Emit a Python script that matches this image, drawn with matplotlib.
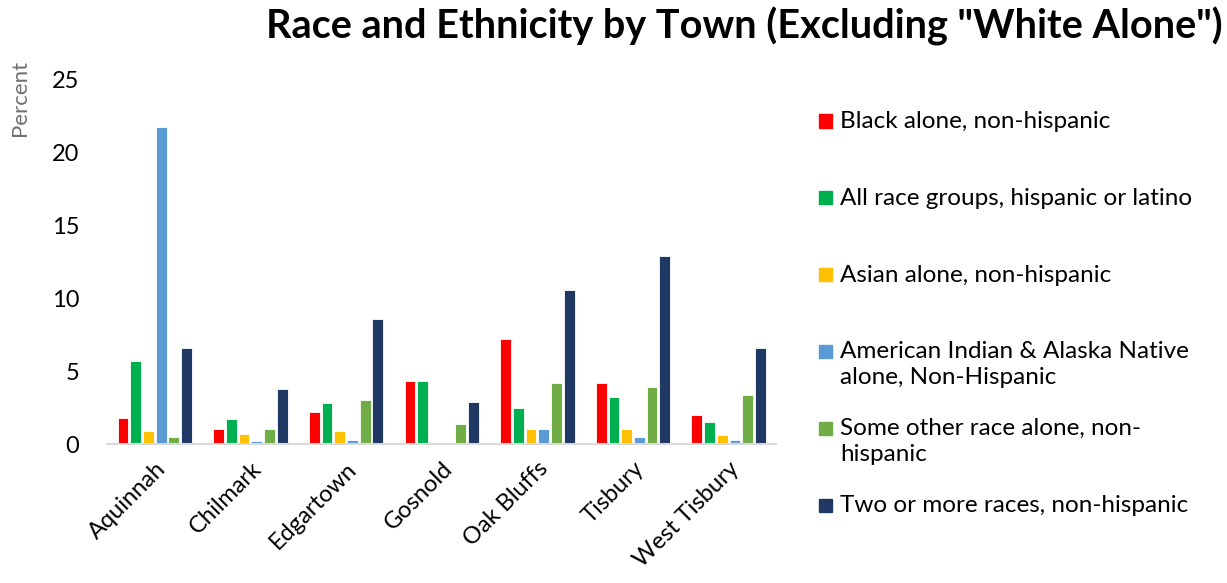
import matplotlib.pyplot as plt
import numpy as np
from matplotlib.patches import Rectangle

towns = ["Aquinnah", "Chilmark", "Edgartown", "Gosnold", "Oak Bluffs", "Tisbury", "West Tisbury"]
series_names = [
    "Black alone, non-hispanic",
    "All race groups, hispanic or latino",
    "Asian alone, non-hispanic",
    "American Indian & Alaska Native\nalone, Non-Hispanic",
    "Some other race alone, non-\nhispanic",
    "Two or more races, non-hispanic",
]
black = [1.8, 1.0, 2.2, 4.3, 7.2, 4.2, 2.0]
hispanic = [5.7, 1.7, 2.8, 4.3, 2.5, 3.2, 1.5]
asian = [0.9, 0.7, 0.9, 0.0, 1.0, 1.0, 0.6]
native = [21.8, 0.2, 0.3, 0.0, 1.0, 0.5, 0.3]
other = [0.5, 1.0, 3.0, 1.4, 4.2, 3.9, 3.4]
two_more = [6.6, 3.8, 8.6, 2.9, 10.6, 12.9, 6.6]
yticks = [0, 5, 10, 15, 20, 25]

values = [black, hispanic, asian, native, other, two_more]
colors = ["#FF0000", "#00B050", "#FFC000", "#5B9BD5", "#70AD47", "#203864"]

plt.rcParams['font.family'] = ['Lato', 'DejaVu Sans']

fig = plt.figure(figsize=(12.27, 5.83), dpi=100)
ax = fig.add_axes([0.0872, 0.2384, 0.5456, 0.6244])

x = np.arange(len(towns))
slot = 0.133
for i, vals in enumerate(values):
    ax.bar(x + (i - 2.5) * slot, vals, width=slot * 0.85, color=colors[i],
           edgecolor="white", linewidth=0.6)

ax.set_xlim(-0.5, len(towns) - 0.5)
ax.set_ylim(0, 25)
ax.set_yticks(yticks)
ax.set_yticklabels([str(t) for t in yticks], fontsize=17)
ax.set_xticks(x)
ax.set_xticklabels(towns, rotation=45, ha="right", rotation_mode="anchor", fontsize=17)
ax.tick_params(axis="y", length=0, pad=20)
ax.tick_params(axis="x", length=0, pad=10)
for s in ["top", "right", "left"]:
    ax.spines[s].set_visible(False)
ax.spines["bottom"].set_color("#D9D9D9")
ax.spines["bottom"].set_linewidth(1.5)

fig.text(0.016, 0.832, "Percent", rotation=90, ha="center", va="center",
         fontsize=16, color="#707070")
fig.text(0.607, 0.955, 'Race and Ethnicity by Town (Excluding "White Alone")',
         ha="center", va="center", fontsize=28.5, fontweight="bold")

# legend drawn by hand so first lines are evenly spaced
for i, name in enumerate(series_names):
    yc = 1 - (121 + i * 76.8) / 583
    fig.patches.append(Rectangle((819 / 1227, yc - 6.5 / 583), 13 / 1227, 13 / 583,
                                 transform=fig.transFigure, color=colors[i]))
    fig.text(840 / 1227, yc + 10 / 583, name, ha="left", va="top", fontsize=17.5,
             linespacing=1.3)

fig.savefig("out.png", dpi=100)
